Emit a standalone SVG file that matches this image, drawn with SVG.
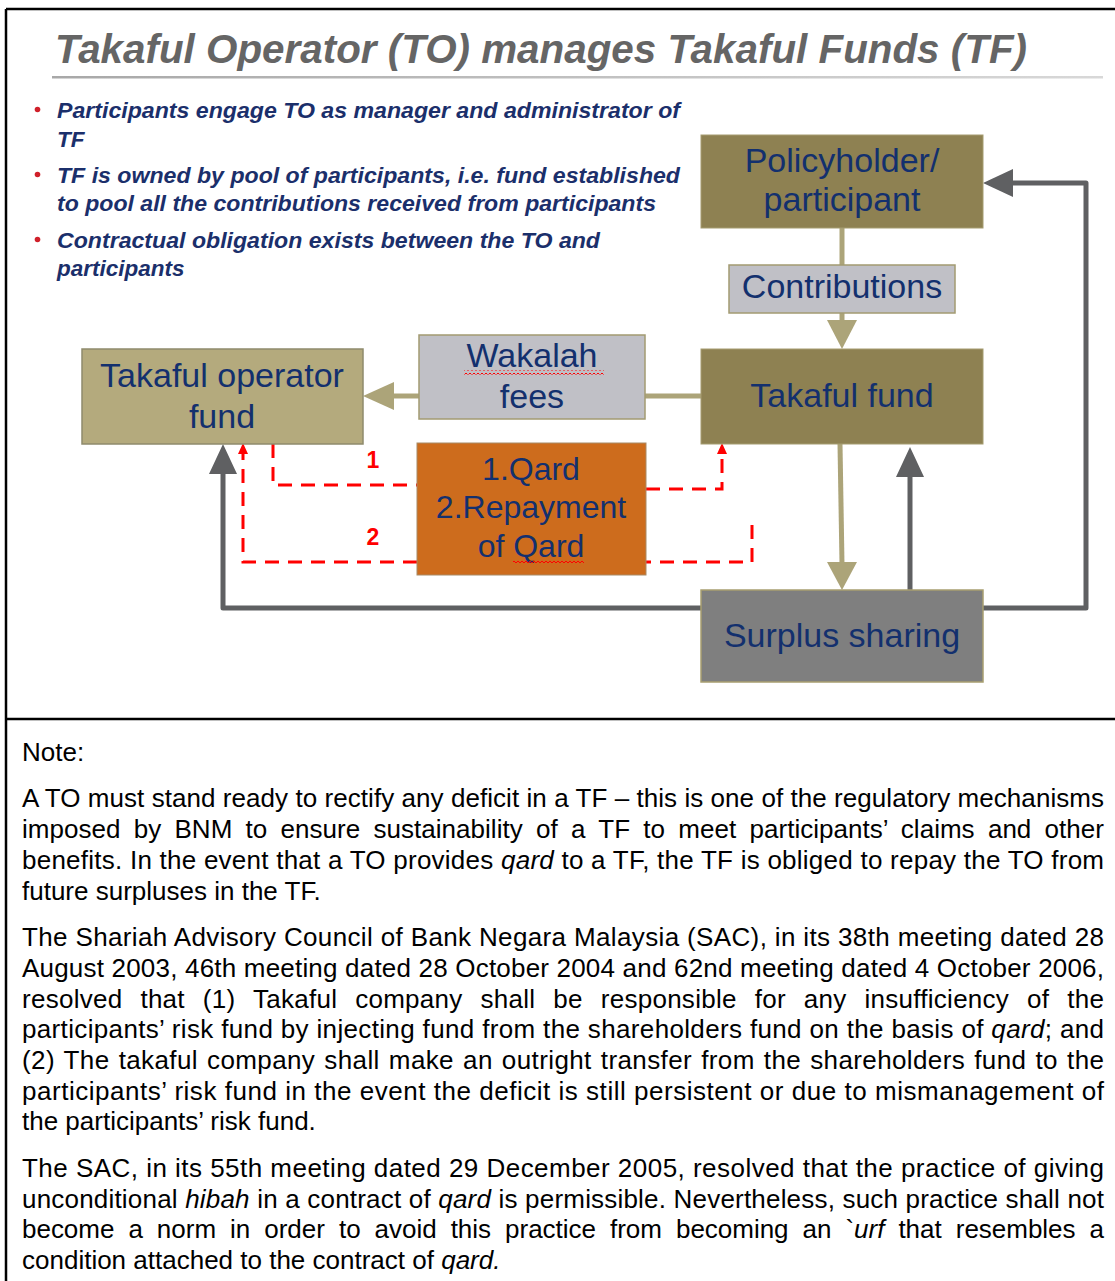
<svg xmlns="http://www.w3.org/2000/svg" width="1115" height="1281" viewBox="0 0 1115 1281">
<style>
.frame{stroke:#000;stroke-width:2.5;fill:none}
.title{font-family:"Liberation Sans",Arial,sans-serif;font-weight:bold;font-style:italic;font-size:40px;fill:#656565}
.bul{font-family:"Liberation Sans",Arial,sans-serif;font-weight:bold;font-style:italic;font-size:22.5px;fill:#1b2f6b}
.dot{fill:#d0202a}
.lbl{font-family:"Liberation Sans",Arial,sans-serif;font-size:34px;fill:#13306e;text-anchor:middle}
.lbl32{font-family:"Liberation Sans",Arial,sans-serif;font-size:32px;fill:#13306e;text-anchor:middle}
.olive{fill:#8e8152;stroke:#a59c70;stroke-width:1}
.tan{fill:#b4aa7d;stroke:#8f8a6c;stroke-width:1.5}
.grey{fill:#c0c0c6;stroke:#a39b72;stroke-width:1.5}
.orange{fill:#cd6c1d;stroke:#a88a66;stroke-width:1}
.surplus{fill:#7f7f7f;stroke:#a89f70;stroke-width:1.5}
.ctan{stroke:#aca479;stroke-width:5;fill:none}
.htan{fill:#aca479}
.cgrey{stroke:#5f6062;stroke-width:5;fill:none;stroke-linejoin:round}
.hgrey{fill:#5f6062}
.cred{stroke:#ff0000;stroke-width:3;fill:none;stroke-dasharray:14 9}
.hred{fill:#ff0000}
.num{font-family:"Liberation Sans",Arial,sans-serif;font-weight:bold;font-size:23px;fill:#ff0000;text-anchor:middle}
.note{font-family:"Liberation Sans",Arial,sans-serif;font-size:26px;fill:#000}
.i{font-style:italic}
</style>
<defs>
<linearGradient id="ul" x1="0" x2="1" y1="0" y2="0">
<stop offset="0" stop-color="#a8a8a8"/>
<stop offset="1" stop-color="#d8d8d8"/>
</linearGradient>
<pattern id="sq" width="4" height="4" patternUnits="userSpaceOnUse">
<path d="M0 3 L2 1 L4 3" stroke="#ff0000" stroke-width="1" fill="none"/>
</pattern>
</defs>

<!-- frame -->
<g id="frame">
<path class="frame" d="M6 9 H1115 M6 9 V1281 M6 719 H1115"/>
</g>

<!-- title and bullets -->
<g id="title">
<text class="title" x="55" y="63" textLength="972" lengthAdjust="spacingAndGlyphs">Takaful Operator (TO) manages Takaful Funds (TF)</text>
<rect x="52" y="76" width="1051" height="2.5" fill="url(#ul)"/>
</g>
<g id="bullets">
<circle class="dot" cx="37.5" cy="109.5" r="2.8"/>
<circle class="dot" cx="37.5" cy="174.5" r="2.8"/>
<circle class="dot" cx="37.5" cy="239.5" r="2.8"/>
<text class="bul" x="57" y="118" textLength="623" lengthAdjust="spacingAndGlyphs">Participants engage TO as manager and administrator of</text>
<text class="bul" x="57" y="147">TF</text>
<text class="bul" x="57" y="183" textLength="623" lengthAdjust="spacingAndGlyphs">TF is owned by pool of participants, i.e. fund established</text>
<text class="bul" x="57" y="211" textLength="599" lengthAdjust="spacingAndGlyphs">to pool all the contributions received from participants</text>
<text class="bul" x="57" y="248" textLength="543" lengthAdjust="spacingAndGlyphs">Contractual obligation exists between the TO and</text>
<text class="bul" x="57" y="276">participants</text>
</g>

<!-- connectors -->
<g id="connectors">
<path class="ctan" d="M842 228 V265"/>
<path class="ctan" d="M842 313 V322"/>
<polygon class="htan" points="827,320 857,320 842,349"/>
<path class="ctan" d="M701 396 H645"/>
<path class="ctan" d="M419 396 H392"/>
<polygon class="htan" points="363,396 394,382 394,410"/>
<path class="ctan" d="M840 444 L842 564"/>
<polygon class="htan" points="827,562 857,562 842,590"/>

<path class="cgrey" d="M701 608 H223 V472"/>
<polygon class="hgrey" points="223,444 209,474 237,474"/>
<path class="cgrey" d="M983 608 H1086 V183 H1010"/>
<polygon class="hgrey" points="983,183 1013,169 1013,197"/>
<path class="cgrey" d="M910 590 V475"/>
<polygon class="hgrey" points="910,447 896,477 924,477"/>

<path class="cred" d="M273 444 V485 H418"/>
<path class="cred" d="M646 489 H722 V453"/>
<polygon class="hred" points="722,443 717,454 727,454"/>
<path class="cred" d="M752 525 V562 H646"/>
<path class="cred" d="M417 562 H243 V453"/>
<polygon class="hred" points="243,443 238,454 248,454"/>
<text class="num" x="373" y="468">1</text>
<text class="num" x="373" y="545">2</text>
</g>

<!-- nodes -->
<g id="policyholder">
<rect class="olive" x="701" y="135" width="282" height="93"/>
<text class="lbl" x="842" y="172">Policyholder/</text>
<text class="lbl" x="842" y="211">participant</text>
</g>
<g id="contributions">
<rect class="grey" x="729" y="265" width="226" height="48"/>
<text class="lbl" x="842" y="298">Contributions</text>
</g>
<g id="takaful-fund">
<rect class="olive" x="701" y="349" width="282" height="95"/>
<text class="lbl" x="842" y="407">Takaful fund</text>
</g>
<g id="wakalah-fees">
<rect class="grey" x="419" y="335" width="226" height="84"/>
<text class="lbl" x="532" y="367">Wakalah</text>
<rect x="464" y="370.5" width="140" height="4" fill="url(#sq)"/>
<text class="lbl" x="532" y="408">fees</text>
</g>
<g id="takaful-operator-fund">
<rect class="tan" x="82" y="349" width="281" height="95"/>
<text class="lbl" x="222" y="387">Takaful operator</text>
<text class="lbl" x="222" y="428">fund</text>
</g>
<g id="qard">
<rect class="orange" x="417" y="443" width="229" height="132"/>
<text class="lbl32" x="531" y="480">1.Qard</text>
<text class="lbl32" x="531" y="518">2.Repayment</text>
<text class="lbl32" x="531" y="557">of Qard</text>
<rect x="513" y="560.5" width="71" height="4" fill="url(#sq)"/>
</g>
<g id="surplus-sharing">
<rect class="surplus" x="701" y="590" width="282" height="92"/>
<text class="lbl" x="842" y="647">Surplus sharing</text>
</g>

<!-- note -->
<g id="note">
<text class="note" x="22" y="761">Note:</text>
<text class="note" x="22" y="807" textLength="1082" lengthAdjust="spacing">A TO must stand ready to rectify any deficit in a TF – this is one of the regulatory mechanisms</text>
<text class="note" x="22" y="838" word-spacing="6" textLength="1082" lengthAdjust="spacing">imposed by BNM to ensure sustainability of a TF to meet participants’ claims and other</text>
<text class="note" x="22" y="869" textLength="1082" lengthAdjust="spacing">benefits. In the event that a TO provides <tspan class="i">qard</tspan> to a TF, the TF is obliged to repay the TO from</text>
<text class="note" x="22" y="900">future surpluses in the TF.</text>

<text class="note" x="22" y="946" textLength="1082" lengthAdjust="spacing">The Shariah Advisory Council of Bank Negara Malaysia (SAC), in its 38th meeting dated 28</text>
<text class="note" x="22" y="977" textLength="1082" lengthAdjust="spacing">August 2003, 46th meeting dated 28 October 2004 and 62nd meeting dated 4 October 2006,</text>
<text class="note" x="22" y="1007.5" word-spacing="10.5" textLength="1082" lengthAdjust="spacing">resolved that (1) Takaful company shall be responsible for any insufficiency of the</text>
<text class="note" x="22" y="1038" textLength="1082" lengthAdjust="spacing">participants’ risk fund by injecting fund from the shareholders fund on the basis of <tspan class="i">qard</tspan>; and</text>
<text class="note" x="22" y="1069" word-spacing="1.5" textLength="1082" lengthAdjust="spacing">(2) The takaful company shall make an outright transfer from the shareholders fund to the</text>
<text class="note" x="22" y="1100" textLength="1082" lengthAdjust="spacing">participants’ risk fund in the event the deficit is still persistent or due to mismanagement of</text>
<text class="note" x="22" y="1130">the participants’ risk fund.</text>

<text class="note" x="22" y="1177" textLength="1082" lengthAdjust="spacing">The SAC, in its 55th meeting dated 29 December 2005, resolved that the practice of giving</text>
<text class="note" x="22" y="1207.5" textLength="1082" lengthAdjust="spacing">unconditional <tspan class="i">hibah</tspan> in a contract of <tspan class="i">qard</tspan> is permissible. Nevertheless, such practice shall not</text>
<text class="note" x="22" y="1238" word-spacing="6.8" textLength="1082" lengthAdjust="spacing">become a norm in order to avoid this practice from becoming an `<tspan class="i">urf</tspan> that resembles a</text>
<text class="note" x="22" y="1269">condition attached to the contract of <tspan class="i">qard.</tspan></text>
</g>
</svg>
